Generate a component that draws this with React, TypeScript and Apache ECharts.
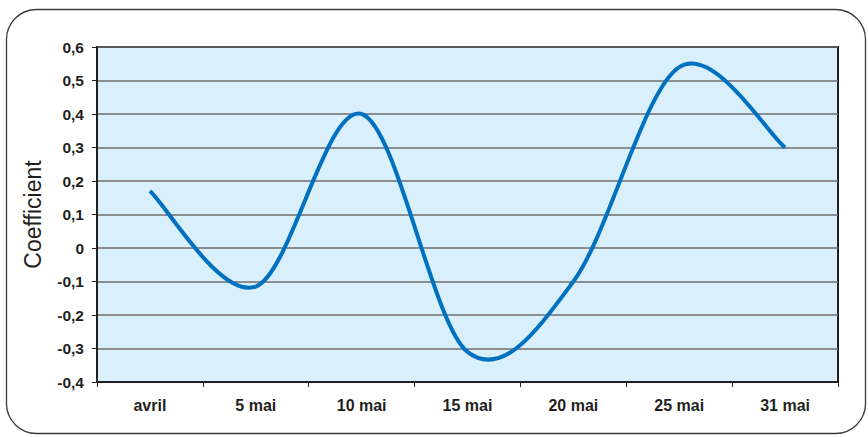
import React, { useEffect, useRef } from "react";
import * as echarts from "echarts";

const categories = ["avril", "5 mai", "10 mai", "15 mai", "20 mai", "25 mai", "31 mai"];
const coefficients = [0.17, -0.115, 0.4, -0.31, -0.1, 0.54, 0.3];
const yMin = -0.4;
const yMax = 0.6;
const yStep = 0.1;
const yTitle = "Coefficient";

const FONT = "'Liberation Sans', Arial, sans-serif";
const TEXT = "#231f20";

export default function App() {
  const ref = useRef<HTMLDivElement>(null);
  useEffect(() => {
    if (!ref.current) return;
    const chart = echarts.init(ref.current, null, { renderer: "svg" });
    const n = coefficients.length;
    const option: any = {
      animation: false,
      backgroundColor: "#ffffff",
      graphic: [
        {
          type: "rect",
          z: -10,
          shape: { x: 6.5, y: 9.5, width: 859, height: 424, r: 30 },
          style: { fill: "#ffffff", stroke: "#3a3a3a", lineWidth: 1.3 },
          silent: true,
        },
      ],
      grid: {
        left: 97,
        right: 30,
        top: 47,
        bottom: 55,
        show: true,
        backgroundColor: "#D9EFFB",
        borderColor: "#231f20",
        borderWidth: 2,
      },
      xAxis: {
        type: "category",
        data: categories,
        boundaryGap: true,
        axisLine: { onZero: false, lineStyle: { color: TEXT, width: 2 } },
        axisTick: { show: true, length: 5, lineStyle: { color: TEXT, width: 1 } },
        axisLabel: {
          margin: 15,
          fontFamily: FONT,
          fontWeight: "bold",
          fontSize: 16,
          color: TEXT,
        },
        splitLine: { show: false },
      },
      yAxis: {
        type: "value",
        min: yMin,
        max: yMax,
        interval: yStep,
        name: yTitle,
        nameLocation: "middle",
        nameGap: 53,
        nameTextStyle: { fontFamily: FONT, fontSize: 23, color: TEXT },
        axisLine: { show: true, lineStyle: { color: TEXT, width: 2 } },
        axisTick: { show: true, length: 5, lineStyle: { color: TEXT, width: 1 } },
        axisLabel: {
          margin: 13,
          fontFamily: FONT,
          fontWeight: "bold",
          fontSize: 15.5,
          color: TEXT,
          formatter: (v: number) => {
            const r = Math.round(v * 10) / 10;
            if (r === 0) return "0";
            return r.toFixed(1).replace(".", ",");
          },
        },
        splitLine: { show: true, lineStyle: { color: "#6e6e6e", width: 1.5 } },
      },
      series: [
        {
          type: "custom",
          clip: true,
          z: 5,
          encode: { x: 0, y: 1 },
          data: coefficients.map((v, i) => [i, v]),
          renderItem: (params: any, api: any) => {
            const i = params.dataIndex;
            if (i >= n - 1) return { type: "group", children: [] };
            const P = (k: number) => api.coord([k, coefficients[k]]);
            const p0 = P(Math.max(i - 1, 0));
            const p1 = P(i);
            const p2 = P(i + 1);
            const p3 = P(Math.min(i + 2, n - 1));
            return {
              type: "bezierCurve",
              shape: {
                x1: p1[0],
                y1: p1[1],
                x2: p2[0],
                y2: p2[1],
                cpx1: p1[0] + (p2[0] - p0[0]) / 6,
                cpy1: p1[1] + (p2[1] - p0[1]) / 6,
                cpx2: p2[0] - (p3[0] - p1[0]) / 6,
                cpy2: p2[1] - (p3[1] - p1[1]) / 6,
              },
              style: {
                fill: null,
                stroke: "#0070C0",
                lineWidth: 4,
                lineCap: "butt",
              },
            };
          },
        },
      ],
    };
    chart.setOption(option);
    return () => chart.dispose();
  }, []);
  return (
    <div
      ref={ref}
      style={{ position: "fixed", left: 0, top: 0, width: 868, height: 437 }}
    />
  );
}
